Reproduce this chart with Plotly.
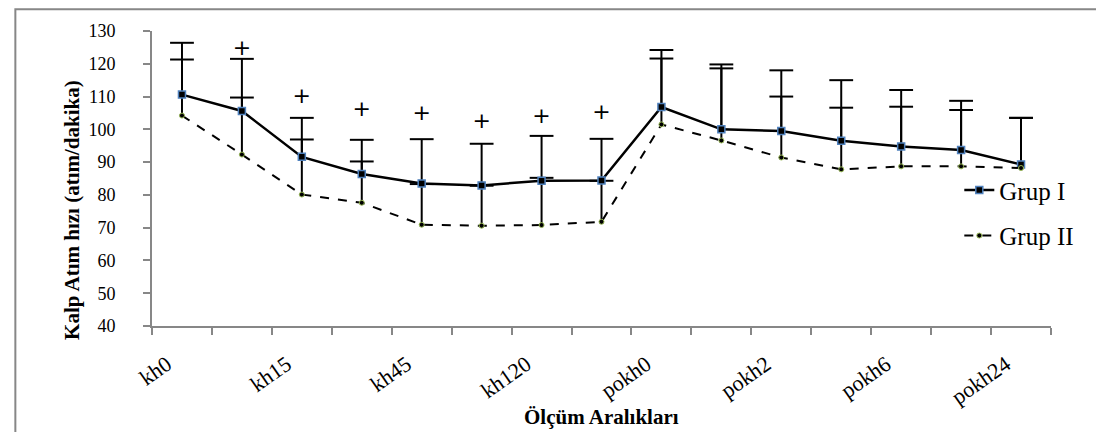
import plotly.graph_objects as go

categories = ["kh0", "kh5", "kh15", "kh30", "kh45", "kh60", "kh120", "kh180",
              "pokh0", "pokh1", "pokh2", "pokh4", "pokh6", "pokh12", "pokh24"]
tick_labels = ["kh0", "", "kh15", "", "kh45", "", "kh120", "",
               "pokh0", "", "pokh2", "", "pokh6", "", "pokh24"]

grup1_mean = [110.6, 105.6, 91.6, 86.4, 83.5, 82.9, 84.3, 84.4,
              106.8, 100.0, 99.5, 96.5, 94.8, 93.7, 89.3]
grup1_sd = [15.8, 15.9, 11.9, 10.4, 13.5, 12.7, 13.7, 12.7,
            17.4, 19.8, 18.5, 18.5, 17.2, 15.0, 14.2]
grup2_mean = [104.2, 92.3, 80.1, 77.6, 70.9, 70.6, 70.8, 71.8,
              101.5, 96.6, 91.4, 87.8, 88.7, 88.7, 88.2]
grup2_sd = [17.1, 17.4, 16.8, 12.6, 12.4, 12.2, 14.4, 12.5,
            20.1, 22.0, 18.6, 18.8, 18.2, 17.2, 15.3]

sig_text = ["", "+", "+", "+", "+", "+", "+", "+", "", "", "", "", "", "", ""]
sig_y = [None, 124.4, 109.6, 105.8, 104.6, 102.0, 103.5, 104.8,
         None, None, None, None, None, None, None]

FONT = "Liberation Serif"
AXIS_GRAY = "#878787"

fig = go.Figure()

# error bars (upper only): stem from mean to mean+sd, cap drawn as line-ew marker
for mean, sd in [(grup2_mean, grup2_sd), (grup1_mean, grup1_sd)]:
    tops = [m + s for m, s in zip(mean, sd)]
    fig.add_trace(go.Scatter(
        x=categories, y=tops, mode="markers", showlegend=False, hoverinfo="skip",
        marker=dict(symbol="line-ew", size=17, color="black",
                    line=dict(color="black", width=2)),
        error_y=dict(type="data", symmetric=False, array=[0] * len(sd),
                     arrayminus=sd, width=0, thickness=2, color="black"),
    ))

fig.add_trace(go.Scatter(
    x=categories, y=grup1_mean, mode="lines+markers", name="Grup I",
    legendgroup="g1",
    line=dict(color="black", width=2.5),
    marker=dict(symbol="square", size=7, color="black",
                line=dict(color="#4F81BD", width=1.5)),
))
fig.add_trace(go.Scatter(
    x=categories, y=grup2_mean, mode="lines+markers", name="Grup II",
    legendgroup="g2",
    line=dict(color="black", width=2, dash="dash"),
    marker=dict(symbol="circle", size=5, color="black",
                line=dict(color="#9BBB59", width=1)),
))

# significance markers
fig.add_trace(go.Scatter(
    x=categories, y=sig_y, mode="text", text=sig_text, showlegend=False,
    hoverinfo="skip", textposition="middle center",
    textfont=dict(family="DejaVu Sans", size=22, color="#000000"),
))

fig.add_annotation(text="<b>Ölçüm Aralıkları</b>", xref="paper", yref="paper",
                   x=0.5, y=-0.31, showarrow=False, yanchor="middle",
                   font=dict(family=FONT, size=21, color="black"))
fig.add_annotation(text="<b>Kalp Atım hızı (atım/dakika)</b>", xref="paper", yref="paper",
                   x=-0.0882, y=0.3925, showarrow=False, textangle=-90,
                   xanchor="center", yanchor="middle",
                   font=dict(family=FONT, size=21, color="black"))

fig.update_layout(
    width=1104, height=432,
    margin=dict(l=144, r=61, t=23, b=114),
    paper_bgcolor="white", plot_bgcolor="white",
    font=dict(family=FONT, color="black"),
    showlegend=True,
    legend=dict(x=0.898, y=0.538, xanchor="left", yanchor="top",
                traceorder="grouped", tracegroupgap=10,
                font=dict(family=FONT, size=25, color="black"),
                bgcolor="rgba(0,0,0,0)"),
    xaxis=dict(type="category", categoryorder="array", categoryarray=categories,
               tickmode="array", tickvals=categories, ticktext=tick_labels,
               tickson="boundaries", ticks="outside", ticklen=7, tickwidth=2,
               tickcolor=AXIS_GRAY, showline=True, linecolor=AXIS_GRAY, linewidth=2,
               showgrid=False, zeroline=False, tickangle=-35,
               ticklabelstandoff=15, ticklabelshift=-15,
               tickfont=dict(family=FONT, size=22, color="black"),
               range=[-0.5, 14.5]),
    yaxis=dict(range=[40, 130], tickmode="linear", tick0=40, dtick=10,
               ticks="outside", ticklen=7, tickwidth=2, tickcolor=AXIS_GRAY,
               showline=True, linecolor=AXIS_GRAY, linewidth=2,
               showgrid=False, zeroline=False, ticklabelstandoff=24,
               tickfont=dict(family=FONT, size=18, color="black")),
    shapes=[dict(type="rect", xref="paper", yref="paper",
                 x0=-0.152, x1=1.0656, y0=-0.376, y1=1.074,
                 line=dict(color=AXIS_GRAY, width=2), layer="below")],
)

fig.write_html("out.html")
